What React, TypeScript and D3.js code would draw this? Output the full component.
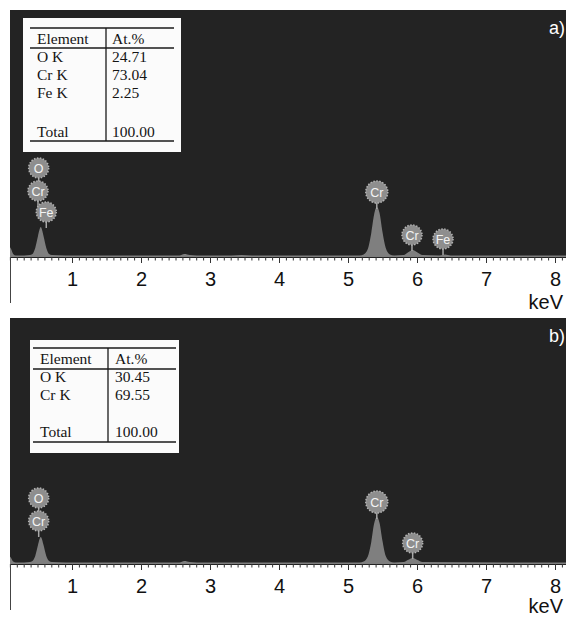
import { useEffect, useRef } from 'react'
import * as d3 from 'd3'

// EDS spectra (keV, counts)
const spectrumA: [number, number][] = [
  [0.09, 10], [0.11, 8], [0.14, 3], [0.18, 1.5], [0.3, 1.5], [0.38, 2], [0.42, 3],
  [0.46, 9], [0.5, 21], [0.54, 30], [0.58, 21], [0.62, 9], [0.66, 3], [0.7, 2],
  [0.9, 1.5], [1.3, 1.5], [2.0, 1.5], [2.55, 1.5], [2.62, 3], [2.7, 2], [2.8, 1.5],
  [3.3, 1.5], [3.45, 2], [3.6, 1.5], [5.16, 1.5], [5.22, 2.5], [5.28, 8], [5.33, 24],
  [5.37, 42], [5.41, 50], [5.45, 44], [5.49, 26], [5.54, 9], [5.6, 2.5], [5.66, 1.5],
  [5.8, 2], [5.86, 4.5], [5.93, 7], [6.0, 4.5], [6.07, 2], [6.32, 1.5], [6.4, 2.5],
  [6.48, 1.5], [8.2, 1.5],
]
const spectrumB: [number, number][] = [
  [0.09, 8], [0.11, 6], [0.14, 2.5], [0.18, 1.5], [0.3, 1.5], [0.38, 2], [0.42, 3],
  [0.46, 8], [0.5, 19], [0.54, 27], [0.58, 19], [0.62, 8], [0.66, 3], [0.7, 2],
  [0.9, 1.5], [1.3, 1.5], [2.0, 1.5], [2.55, 1.5], [2.62, 3], [2.7, 2], [2.8, 1.5],
  [3.3, 1.5], [5.16, 1.5], [5.22, 2.5], [5.28, 7.5], [5.33, 22], [5.37, 40], [5.41, 47],
  [5.45, 41], [5.49, 24], [5.54, 8], [5.6, 2.5], [5.66, 1.5], [5.8, 2], [5.86, 4],
  [5.93, 6], [6.0, 4], [6.07, 2], [8.2, 1.5],
]

// peak markers: element, keV, level (counts) of the marker
const markersA: [string, number, number][] = [
  ['O', 0.51, 89], ['Cr', 0.5, 66], ['Fe', 0.62, 45],
  ['Cr', 5.41, 65], ['Cr', 5.92, 22], ['Fe', 6.37, 18],
]
const markersB: [string, number, number][] = [
  ['O', 0.51, 66], ['Cr', 0.51, 43],
  ['Cr', 5.41, 62], ['Cr', 5.93, 21],
]

const elementsA = ['O K', 'Cr K', 'Fe K']
const atomicA = ['24.71', '73.04', '2.25']
const elementsB = ['O K', 'Cr K']
const atomicB = ['30.45', '69.55']
const total = '100.00'

const tickLabels = [1, 2, 3, 4, 5, 6, 7, 8]

const W = 566
const H = 617

interface Panel {
  top: number
  axisY: number
  spectrum: [number, number][]
  markers: [string, number, number][]
  elements: string[]
  atomic: string[]
  label: string
  table: { x: number; y: number; w: number; h: number; lineX0: number; lineX1: number; top: number; head: number; bottom: number; col: number; textX: number; valX: number; base: number[]; totalBase: number }
}

const panels: Panel[] = [
  {
    top: 10, axisY: 257, spectrum: spectrumA, markers: markersA, elements: elementsA, atomic: atomicA, label: 'a)',
    table: { x: 23, y: 18, w: 158, h: 134, lineX0: 30, lineX1: 174, top: 28, head: 48, bottom: 141, col: 106, textX: 37, valX: 112, base: [44, 62, 80, 98], totalBase: 137 },
  },
  {
    top: 318, axisY: 564, spectrum: spectrumB, markers: markersB, elements: elementsB, atomic: atomicB, label: 'b)',
    table: { x: 30, y: 340, w: 149, h: 113, lineX0: 33, lineX1: 176, top: 348, head: 369, bottom: 442, col: 108, textX: 40, valX: 115, base: [364, 382, 400], totalBase: 437 },
  },
]

export default function App() {
  const svgRef = useRef<SVGSVGElement>(null)

  useEffect(() => {
    if (!svgRef.current) return
    const svg = d3.select(svgRef.current)
    svg.selectAll('*').remove()

    svg.append('rect').attr('width', W).attr('height', H).attr('fill', '#fff')

    const x = d3.scaleLinear().domain([0, 8]).range([3.5, 555.5])

    panels.forEach((p, pi) => {
      const y = d3.scaleLinear().domain([0, 100]).range([p.axisY, p.axisY - 100])
      const g = svg.append('g')

      // dark plot background
      g.append('rect')
        .attr('x', 10).attr('y', p.top)
        .attr('width', W - 10).attr('height', p.axisY - p.top)
        .attr('fill', '#232323')

      const clipId = `clip-${pi}`
      svg.append('clipPath').attr('id', clipId)
        .append('rect').attr('x', 10).attr('y', p.top).attr('width', W - 10).attr('height', p.axisY - p.top)

      // spectrum
      const area = d3.area<[number, number]>()
        .x(d => x(d[0]))
        .y0(y(0))
        .y1(d => y(d[1]))
        .curve(d3.curveMonotoneX)

      g.append('path')
        .datum(p.spectrum)
        .attr('clip-path', `url(#${clipId})`)
        .attr('d', area)
        .attr('fill', '#7f7f7f')

      // table
      const t = p.table
      const tg = g.append('g')
      tg.append('rect').attr('x', t.x).attr('y', t.y).attr('width', t.w).attr('height', t.h)
        .attr('fill', '#fbfbfb')
      ;[t.top, t.head, t.bottom].forEach(ly => {
        tg.append('line').attr('x1', t.lineX0).attr('x2', t.lineX1).attr('y1', ly).attr('y2', ly)
          .attr('stroke', '#1a1a1a').attr('stroke-width', ly === t.top ? 1.3 : 1.6)
      })
      tg.append('line').attr('x1', t.col).attr('x2', t.col).attr('y1', t.top).attr('y2', t.bottom)
        .attr('stroke', '#1a1a1a').attr('stroke-width', 1.3)

      const txt = (s: string, tx: number, ty: number) =>
        tg.append('text').attr('x', tx).attr('y', ty)
          .attr('font-family', '"Liberation Serif", "Times New Roman", serif')
          .attr('font-size', 15.5).attr('fill', '#141414').text(s)

      txt('Element', t.textX, t.base[0])
      txt('At.%', t.valX, t.base[0])
      p.elements.forEach((e, i) => {
        txt(e, t.textX, t.base[i + 1])
        txt(p.atomic[i], t.valX, t.base[i + 1])
      })
      txt('Total', t.textX, t.totalBase)
      txt(total, t.valX, t.totalBase)

      // marker stems then circles
      const r = 10
      p.markers.forEach(([, k, lvl]) => {
        const cx = x(k)
        const cy = y(lvl)
        const rr = lvl > 60 && k > 5 ? r + 1 : r
        g.append('line')
          .attr('x1', cx).attr('x2', cx).attr('y1', cy + rr).attr('y2', cy + rr + 6)
          .attr('stroke', '#a8a8a8').attr('stroke-width', 1.5)
      })
      p.markers.forEach(([el, k, lvl]) => {
        const cx = x(k)
        const cy = y(lvl)
        const rr = lvl > 60 && k > 5 ? r + 1 : r
        g.append('circle')
          .attr('cx', cx).attr('cy', cy).attr('r', rr)
          .attr('fill', '#8e8e8e')
          .attr('stroke', '#b4b4b4').attr('stroke-width', 1.5)
          .attr('stroke-dasharray', '1.5,1.5')
        g.append('text')
          .attr('x', cx).attr('y', cy).attr('dy', '0.36em')
          .attr('text-anchor', 'middle')
          .attr('font-family', '"Liberation Sans", Arial, sans-serif')
          .attr('font-size', 12.5).attr('fill', '#f4f4f4')
          .text(el)
      })

      // panel label
      g.append('text')
        .attr('x', 565).attr('y', p.top + 24)
        .attr('text-anchor', 'end')
        .attr('font-family', '"Liberation Sans", Arial, sans-serif')
        .attr('font-size', 18).attr('fill', '#fff')
        .text(p.label)

      // axis
      g.append('line').attr('x1', 10).attr('x2', W).attr('y1', p.axisY + 0.5).attr('y2', p.axisY + 0.5)
        .attr('stroke', '#222').attr('stroke-width', 1)
      const minor = d3.range(1, 82).map(i => i / 10)
      g.selectAll(null)
        .data(minor)
        .enter()
        .append('line')
        .attr('x1', d => x(d)).attr('x2', d => x(d))
        .attr('y1', p.axisY)
        .attr('y2', d => p.axisY + (Math.abs(d - Math.round(d)) < 1e-6 ? 6 : 3.5))
        .attr('stroke', '#333').attr('stroke-width', 1)

      g.append('line').attr('x1', 10.5).attr('x2', 10.5).attr('y1', p.axisY).attr('y2', p.axisY + 46)
        .attr('stroke', '#444').attr('stroke-width', 1)

      g.selectAll(null)
        .data(tickLabels)
        .enter()
        .append('text')
        .attr('x', d => x(d)).attr('y', p.axisY + 29)
        .attr('text-anchor', 'middle')
        .attr('font-family', '"Liberation Sans", Arial, sans-serif')
        .attr('font-size', 20).attr('fill', '#111')
        .text(d => d)

      g.append('text')
        .attr('x', 563).attr('y', Math.min(p.axisY + 52, H - 4))
        .attr('text-anchor', 'end')
        .attr('font-family', '"Liberation Sans", Arial, sans-serif')
        .attr('font-size', 20).attr('fill', '#111')
        .text('keV')
    })
  }, [])

  return (
    <div style={{ position: 'absolute', left: 0, top: 0 }}>
      <svg ref={svgRef} width={W} height={H} style={{ display: 'block' }} />
    </div>
  )
}
